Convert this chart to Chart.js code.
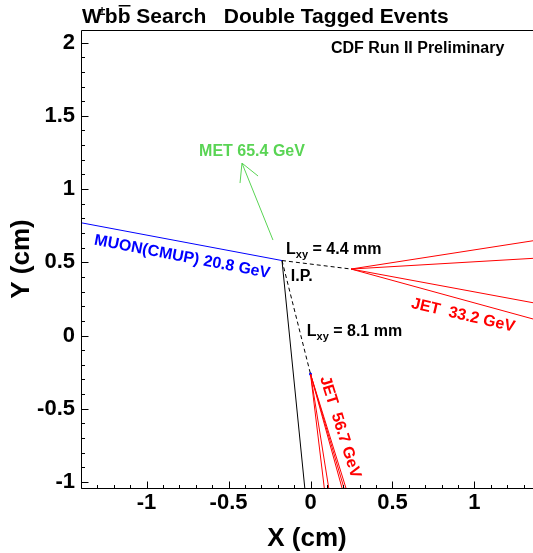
<!DOCTYPE html>
<html>
<head>
<meta charset="utf-8">
<script src="https://cdn.jsdelivr.net/npm/chart.js@4.4.1/dist/chart.umd.min.js"></script>
<style>
  body { margin: 0; background: #fff; }
  #wrap { width: 533px; height: 553px; }
</style>
</head>
<body>
<div id="wrap"><canvas id="display" width="533" height="553"></canvas></div>
<script>
// vertices and track end points, in cm
const ipVertex = [-0.174, 0.512];
const svJet33 = [0.247, 0.454];
const svJet56 = [0.0, -0.263];
const muonEnd = [-1.40, 0.770];
const blackTrackEnd = [-0.035, -1.041];
const metStart = [-0.229, 0.652];
const metTip = [-0.418, 1.177];
const metWingA = [-0.430, 1.041];
const metWingB = [-0.320, 1.089];
const jet33Ends = [[1.357, 0.647], [1.357, 0.527], [1.357, 0.224], [1.357, 0.113]];
const jet56Ends = [[0.084, -1.041], [0.111, -1.041], [0.192, -1.041], [0.204, -1.041], [0.216, -1.041]];

const xTickValues = [-1, -0.5, 0, 0.5, 1];
const yTickValues = [-1, -0.5, 0, 0.5, 1, 1.5, 2];

const FONT = '"Liberation Sans", Arial, Helvetica, sans-serif';
const GREEN = '#59d454';
const BLUE = '#0000ff';
const RED = '#ff0000';

// text labels placed in data coordinates
const annotations = [
  { text: 'MET 65.4 GeV', x: -0.357, y: 1.253, color: GREEN, angle: 0 },
  { text: 'MUON(CMUP) 20.8 GeV', x: -0.783, y: 0.536, color: BLUE, angle: 10.8 },
  { text: 'JET  33.2 GeV', x: 0.93, y: 0.137, color: RED, angle: 13 },
  { text: 'JET  56.7 GeV', x: 0.18, y: -0.625, color: RED, angle: 72.5 },
  { text: 'I.P.', x: -0.120, y: 0.372, color: '#000', angle: 0, left: true }
];
const lxyLabels = [
  { value: '4.4 mm', x: -0.149, y: 0.556 },
  { value: '8.1 mm', x: -0.023, y: -0.003 }
];

const pt = p => ({ x: p[0], y: p[1] });
const seg = (a, b, color, dash) => ({
  data: [pt(a), pt(b)],
  borderColor: color,
  borderWidth: 1,
  borderDash: dash || [],
  pointRadius: 0,
  showLine: true,
  fill: false
});

const datasets = [
  seg(ipVertex, muonEnd, BLUE),
  seg(ipVertex, blackTrackEnd, '#000'),
  seg(ipVertex, svJet33, '#000', [4, 3]),
  seg(ipVertex, svJet56, '#000', [4, 3]),
  seg(metStart, metTip, GREEN),
  seg(metTip, metWingA, GREEN),
  seg(metTip, metWingB, GREEN)
];
jet33Ends.forEach(e => datasets.push(seg(svJet33, e, RED)));
jet56Ends.forEach(e => datasets.push(seg(svJet56, e, RED)));
datasets.push({
  data: [pt(svJet56)],
  pointRadius: 1.5,
  pointBackgroundColor: BLUE,
  pointBorderWidth: 0,
  showLine: false
});

const framePlugin = {
  id: 'frame',
  afterDatasetsDraw(chart) {
    const { ctx, chartArea: a, scales: { x, y } } = chart;
    ctx.save();
    ctx.strokeStyle = '#000';
    ctx.lineWidth = 1;
    const left = Math.round(a.left) + 0.5;
    const top = Math.round(a.top) + 0.5;
    const bottom = Math.round(a.bottom) + 0.5;
    ctx.beginPath();
    // ROOT-style frame: left, top and bottom sides (right side is cut off)
    ctx.moveTo(chart.width, top);
    ctx.lineTo(left, top);
    ctx.lineTo(left, bottom);
    ctx.lineTo(chart.width, bottom);
    for (let i = -14; i <= 14; i++) {
      const v = i / 10;
      if (v < x.min || v > x.max) continue;
      const px = Math.round(x.getPixelForValue(v)) + 0.5;
      const len = xTickValues.includes(v) ? 7 : 3.5;
      ctx.moveTo(px, bottom);
      ctx.lineTo(px, bottom - len);
    }
    for (let i = -10; i <= 20; i++) {
      const v = i / 10;
      if (v < y.min || v > y.max) continue;
      const py = Math.round(y.getPixelForValue(v)) + 0.5;
      const len = yTickValues.includes(v) ? 7 : 3.5;
      ctx.moveTo(left, py);
      ctx.lineTo(left + len, py);
    }
    ctx.stroke();
    ctx.restore();
  },
  afterDraw(chart) {
    const { ctx, scales: { x, y } } = chart;
    ctx.save();
    ctx.font = 'bold 16px ' + FONT;
    annotations.forEach(t => {
      ctx.save();
      ctx.fillStyle = t.color;
      ctx.translate(x.getPixelForValue(t.x), y.getPixelForValue(t.y));
      ctx.rotate(t.angle * Math.PI / 180);
      ctx.textAlign = t.left ? 'left' : 'center';
      ctx.textBaseline = t.left ? 'alphabetic' : 'middle';
      ctx.fillText(t.text, 0, 0);
      ctx.restore();
    });

    // L_xy labels with subscript
    ctx.fillStyle = '#000';
    ctx.textAlign = 'left';
    ctx.textBaseline = 'alphabetic';
    lxyLabels.forEach(l => {
      let px = x.getPixelForValue(l.x);
      const py = y.getPixelForValue(l.y);
      ctx.font = 'bold 16px ' + FONT;
      ctx.fillText('L', px, py);
      px += ctx.measureText('L').width;
      ctx.font = 'bold 11px ' + FONT;
      ctx.fillText('xy', px, py + 4);
      px += ctx.measureText('xy').width;
      ctx.font = 'bold 16px ' + FONT;
      ctx.fillText(' = ' + l.value, px, py);
    });

    // header: W^{±} b bbar  Search   Double Tagged Events
    let tx = 82;
    const base = 23;
    ctx.font = 'bold 21px ' + FONT;
    ctx.fillText('W', tx, base);
    tx += ctx.measureText('W').width;
    ctx.font = 'bold 12px ' + FONT;
    ctx.fillText('\u00b1', tx - 3, 15);
    tx += 3;
    ctx.font = 'bold 21px ' + FONT;
    const wb = ctx.measureText('b').width;
    ctx.fillText('b', tx, base);
    tx += wb;
    ctx.fillText('b', tx, base);
    ctx.fillRect(tx + 1, 5, wb - 1, 1.5);
    tx += wb;
    ctx.fillText(' Search   Double Tagged Events', tx, base);

    ctx.font = 'bold 16px ' + FONT;
    ctx.fillText('CDF Run II Preliminary', 331, 53);
    ctx.restore();
  }
};

const tickFont = { family: FONT, size: 22, weight: 'bold' };
const titleFont = { family: FONT, size: 26, weight: 'bold', lineHeight: 1 };

new Chart(document.getElementById('display').getContext('2d'), {
  type: 'scatter',
  data: { datasets },
  options: {
    responsive: false,
    animation: false,
    events: [],
    layout: { autoPadding: false, padding: { top: 30, left: 0, right: 0, bottom: 0 } },
    plugins: { legend: { display: false }, tooltip: { enabled: false } },
    scales: {
      x: {
        type: 'linear',
        min: -1.4,
        max: 1.357,
        grid: { display: false, drawTicks: false },
        border: { display: false },
        afterBuildTicks: s => { s.ticks = xTickValues.map(v => ({ value: v })); },
        afterFit: s => { s.height = 65; },
        ticks: { color: '#000', font: tickFont, padding: 2, maxRotation: 0, autoSkip: false, callback: v => String(v) },
        title: { display: true, text: 'X (cm)', color: '#000', font: titleFont, padding: { top: 0, bottom: 1 } }
      },
      y: {
        type: 'linear',
        min: -1.041,
        max: 2.086,
        grid: { display: false, drawTicks: false },
        border: { display: false },
        afterBuildTicks: s => { s.ticks = yTickValues.map(v => ({ value: v })); },
        afterFit: s => { s.width = 81; },
        ticks: { color: '#000', font: tickFont, padding: 6, autoSkip: false, callback: v => String(v) },
        title: { display: true, text: 'Y (cm)', color: '#000', font: titleFont, padding: { top: 9, bottom: 0 } }
      }
    }
  },
  plugins: [framePlugin]
});
</script>
</body>
</html>
